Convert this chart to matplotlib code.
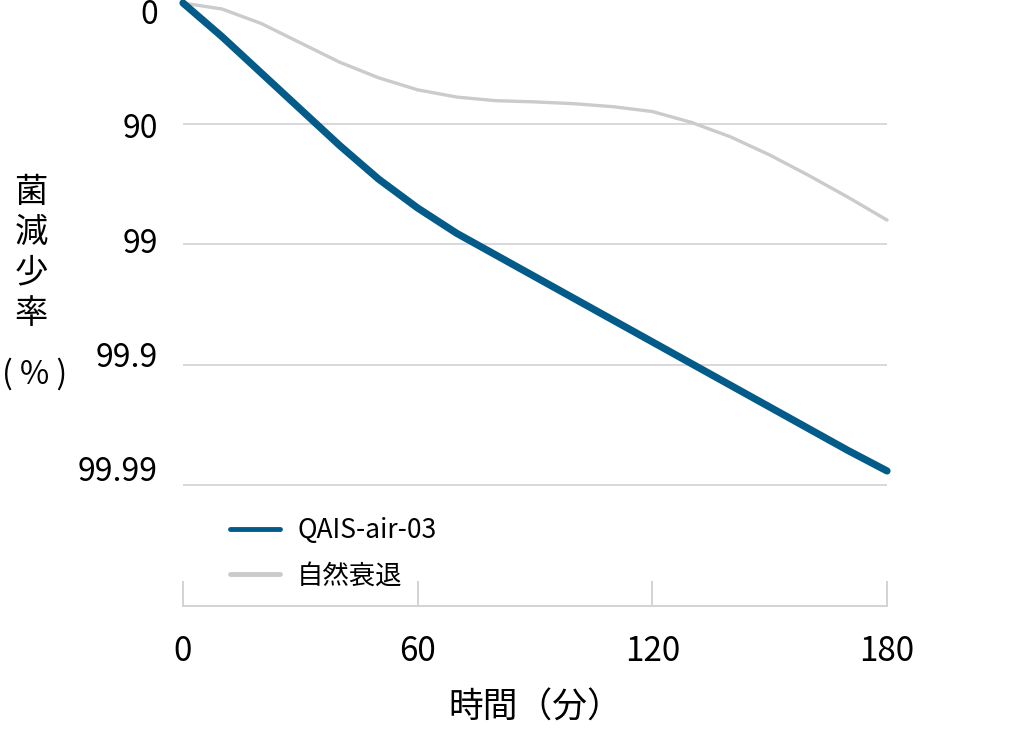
import matplotlib
matplotlib.use('Agg')
import matplotlib.pyplot as plt

plt.rcParams['font.family'] = ['Noto Sans CJK JP', 'DejaVu Sans']

# 時間（分）
tiempo = [0, 10, 20, 30, 40, 50, 60, 70, 80, 90, 100, 110, 120, 130, 140, 150, 160, 170, 180]
# 対数減少値（0=0%, 1=90%, 2=99%, 3=99.9%, 4=99.99%）
qais = [0, 0.28, 0.58, 0.88, 1.18, 1.46, 1.70, 1.91, 2.09, 2.27, 2.45, 2.63, 2.81,
        2.99, 3.17, 3.35, 3.53, 3.71, 3.88]
natural = [0, 0.05, 0.17, 0.33, 0.49, 0.62, 0.72, 0.78, 0.81, 0.82, 0.835, 0.86, 0.90,
           0.99, 1.11, 1.26, 1.43, 1.61, 1.80]

y_ticks = [1, 2, 3, 4]
y_labels = ['0', '90', '99', '99.9', '99.99']
x_ticks = [0, 60, 120, 180]

fig = plt.figure(figsize=(10.26, 7.31), dpi=100)
ax = fig.add_axes([183 / 1026, 1 - 606 / 731, 704 / 1026, 603 / 731])

ax.plot(tiempo, natural, color='#cbcbcb', lw=2.4, label='自然衰退',
        solid_capstyle='round', solid_joinstyle='round', clip_on=False, zorder=3)
ax.plot(tiempo, qais, color='#025b88', lw=5.2, label='QAIS-air-03',
        solid_capstyle='round', solid_joinstyle='round', clip_on=False, zorder=4)

ax.set_xlim(0, 180)
ax.set_ylim(5, 0)

# グリッド
for v in y_ticks:
    ax.axhline(v, color='#d6d6d6', lw=1.3, zorder=1)

for s in ['top', 'right', 'left']:
    ax.spines[s].set_visible(False)
ax.spines['bottom'].set_color('#d0d0d0')
ax.spines['bottom'].set_linewidth(1.3)

ax.set_yticks([])
for i, lab in enumerate(y_labels):
    ax.text(-25 / 3.911, 0.1 + 0.948 * i, lab, ha='right', va='center', fontsize=23)

ax.set_xticks(x_ticks)
ax.set_xticklabels([str(t) for t in x_ticks], fontsize=24)
ax.tick_params(axis='x', direction='in', length=18, width=1.3, color='#d0d0d0', pad=20)

ax.set_xlabel('時間（分）', fontsize=25, labelpad=16)

fig.text(31 / 1026, 1 - 253 / 731, '菌\n減\n少\n率', ha='center', va='center',
         fontsize=24, linespacing=1.2)
fig.text(2 / 1026, 1 - 374 / 731, '( % )', ha='left', va='center', fontsize=23)

handles, labels = ax.get_legend_handles_labels()
leg = ax.legend(handles[::-1], labels[::-1], loc='upper left',
                bbox_to_anchor=(206 / 1026, 1 - 493 / 731), bbox_transform=fig.transFigure,
                frameon=False, fontsize=19, handlelength=1.9, handletextpad=0.65,
                labelspacing=0.7)
for line in leg.get_lines():
    line.set_linewidth(3.5)

fig.savefig('out.png', dpi=100)
